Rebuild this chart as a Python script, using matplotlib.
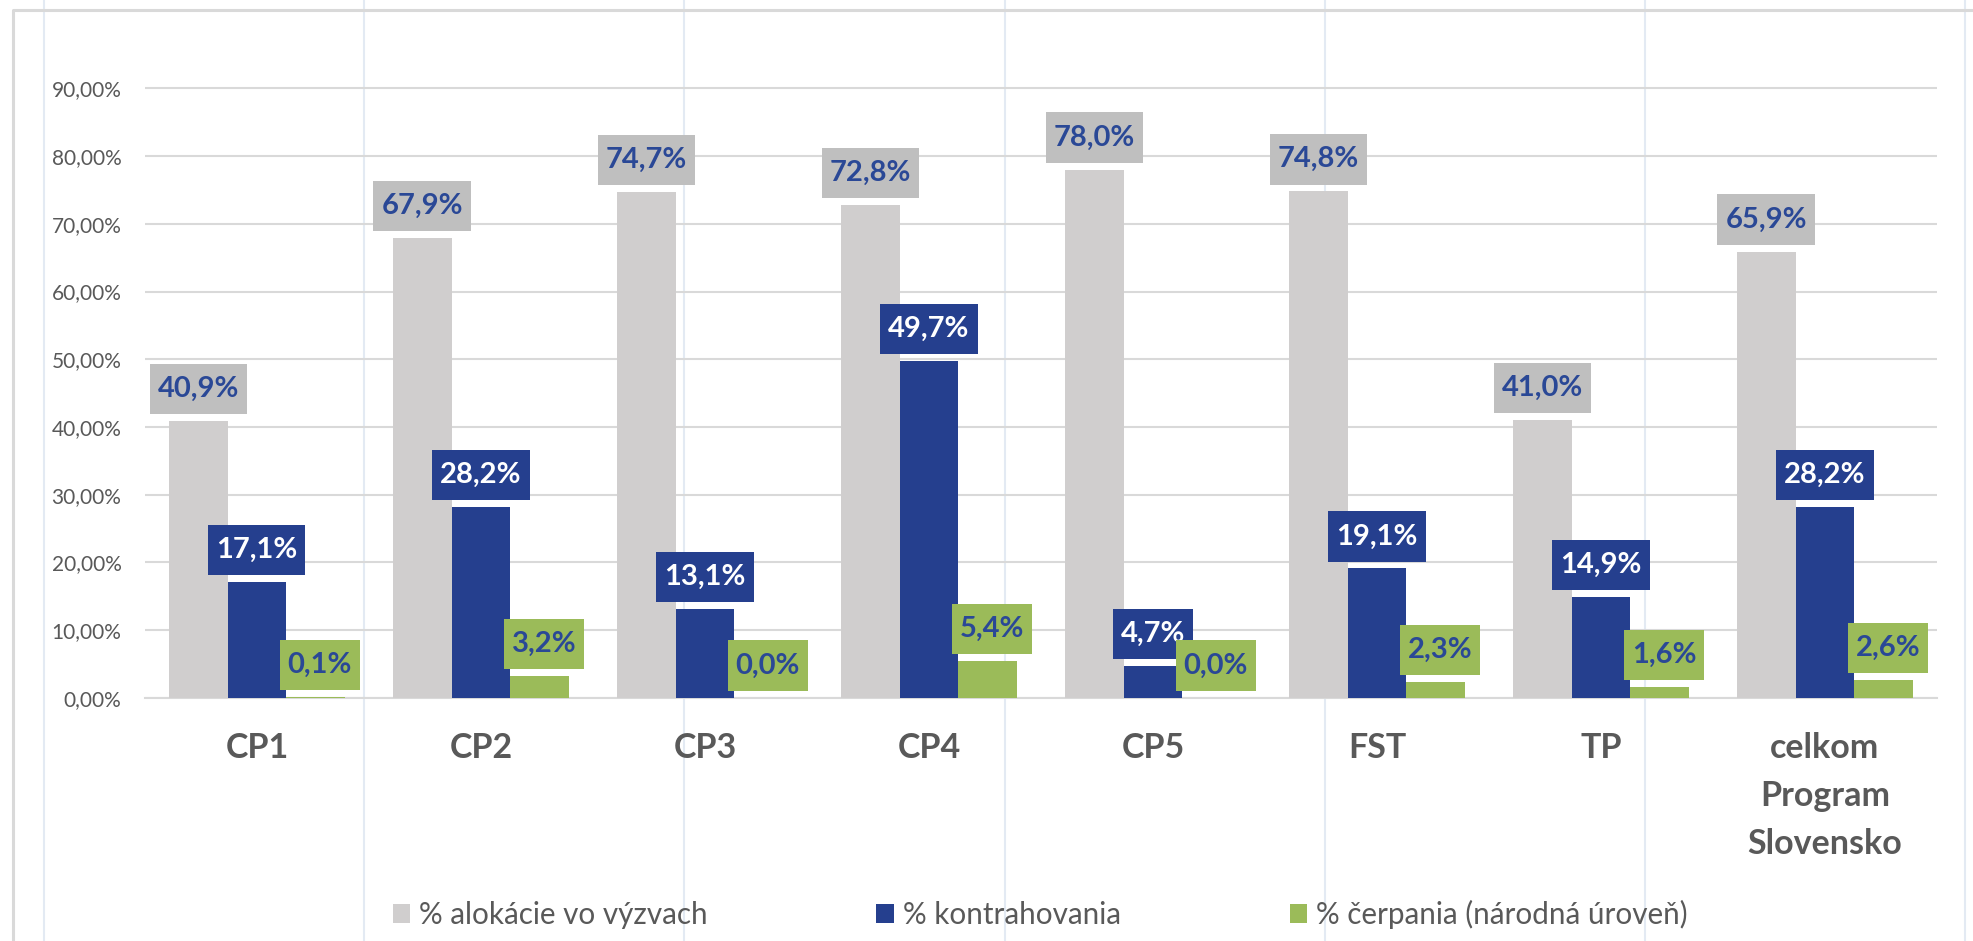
import matplotlib
matplotlib.use("Agg")
import matplotlib.pyplot as plt
from matplotlib.lines import Line2D
from matplotlib.patches import Patch
from matplotlib.path import Path
import numpy as np

plt.rcParams['font.family'] = ['Lato', 'DejaVu Sans']

# data (v %)
kategorie = ["CP1", "CP2", "CP3", "CP4", "CP5", "FST", "TP", "celkom\nProgram\nSlovensko"]
alokacie = [40.9, 67.9, 74.7, 72.8, 78.0, 74.8, 41.0, 65.9]
kontrahovanie = [17.1, 28.2, 13.1, 49.7, 4.7, 19.1, 14.9, 28.2]
cerpanie = [0.1, 3.2, 0.0, 5.4, 0.0, 2.3, 1.6, 2.6]
nazvy = ["% alokácie vo výzvach", "% kontrahovania", "% čerpania (národná úroveň)"]

sivá = "#d0cece"
sivá_box = "#bfbfbf"
modrá = "#253f8e"
zelená = "#9bbb59"
text_modrý = "#2a4896"
text_sivý = "#595959"

W, H = 1974, 941
fig = plt.figure(figsize=(W / 100, H / 100), dpi=100)

# bunky excelu v pozadi + okraj grafu
for cx in [44, 364, 684, 1005, 1325, 1645, 1965]:
    fig.add_artist(Line2D([cx / W, cx / W], [0, 1], transform=fig.transFigure,
                          color="#e3eaf3", lw=1.5, zorder=-2))
fig.add_artist(Line2D([13 / W, 13 / W, 1], [0, 1 - 10 / H, 1 - 10 / H],
                      transform=fig.transFigure, color="#d9d9d9", lw=2.2, zorder=-1))

y0, px10 = 697.7, 67.7
ytop = 95
ax = fig.add_axes([145 / W, 1 - y0 / H, (1937 - 145) / W, ytop * px10 / 10 / H])
ax.patch.set_alpha(0)


def label_box(x0, y0, width, height, mutation_size):
    padx = 0.27 * mutation_size
    pady = 0.42 * mutation_size
    x0 -= padx
    y0 -= pady
    x1 = x0 + width + 2 * padx
    y1 = y0 + height + 2 * pady
    return Path([(x0, y0), (x1, y0), (x1, y1), (x0, y1), (x0, y0)], closed=True)


x = np.arange(len(kategorie))
w = 0.263
series = [
    (alokacie, -w, sivá, sivá_box, text_modrý, 0),
    (kontrahovanie, 0, modrá, modrá, "white", 0),
    (cerpanie, w, zelená, zelená, text_modrý, 4),
]
for vals, off, col, boxcol, tcol, dx in series:
    ax.bar(x + off, vals, width=w, color=col, zorder=3)
    for xi, v in zip(x + off, vals):
        ax.annotate(f"{v:.1f}%".replace(".", ","), xy=(xi, v), xytext=(dx, 19),
                    textcoords="offset pixels", ha="center", va="bottom",
                    fontsize=21, fontweight="bold", color=tcol, zorder=5,
                    bbox=dict(boxstyle=label_box, fc=boxcol, ec="none"))

ax.set_xlim(-0.5, len(kategorie) - 0.5)
ax.set_ylim(0, ytop)
ticks = np.arange(0, 91, 10)
ax.set_yticks(ticks)
ax.set_yticklabels([f"{t:.2f}%".replace(".", ",") for t in ticks])
ax.grid(axis="y", color="#d9d9d9", lw=1.5, zorder=0)
ax.set_axisbelow(True)
ax.set_xticks(x)
ax.set_xticklabels(kategorie)
for t in ax.get_xticklabels():
    t.set_fontsize(24.5)
    t.set_fontweight("bold")
    t.set_linespacing(1.6)
ax.tick_params(axis="x", length=0, pad=25, colors=text_sivý)
ax.tick_params(axis="y", length=0, pad=17, labelsize=15, colors=text_sivý)
for s in ["top", "right", "left"]:
    ax.spines[s].set_visible(False)
ax.spines["bottom"].set_color("#d9d9d9")
ax.spines["bottom"].set_linewidth(1.5)

handles = [Patch(facecolor=c, edgecolor="none") for c in [sivá, modrá, zelená]]
leg = fig.legend(handles, nazvy, loc="center", bbox_to_anchor=(0.527, 0.0287),
                 ncol=3, frameon=False, fontsize=21.3, handlelength=0.6,
                 handleheight=0.6, handletextpad=0.3, columnspacing=5.7)
for t in leg.get_texts():
    t.set_color(text_sivý)

fig.savefig("out.png", dpi=100)
